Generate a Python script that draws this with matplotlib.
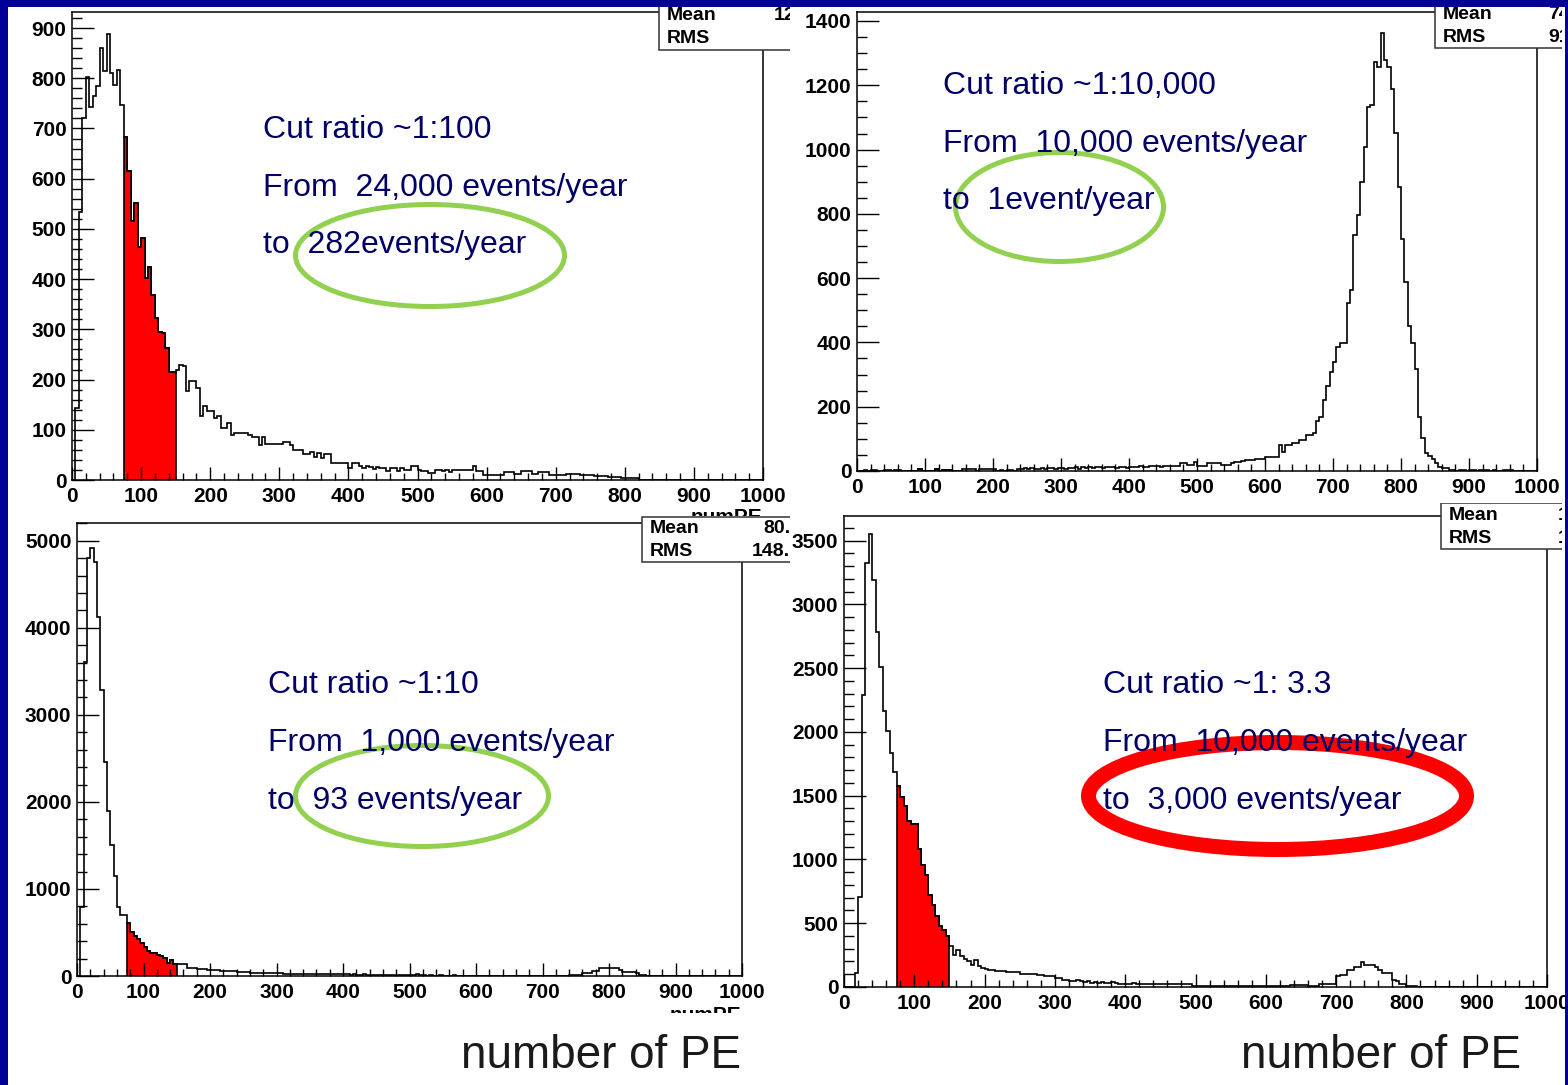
import numpy as np
import matplotlib
matplotlib.use("Agg")
import matplotlib.pyplot as plt
from matplotlib.patches import Rectangle, Ellipse

plt.rcParams['font.family'] = ['Liberation Sans', 'DejaVu Sans']

W, H = 1568, 1085  # slide size in pixels

# 200 bins of 5 PE between 0 and 1000, cut window 75-150 PE
bin_edges = np.arange(0, 1001, 5)
cut_lo, cut_hi = 75, 150

# top left: 24,000 events/year sample
counts_tl = np.array([
    0, 143, 534, 721, 802, 743, 765, 785, 860, 815, 888, 811, 787, 817, 746, 683, 615, 516, 551, 464,
    482, 402, 424, 368, 322, 295, 292, 262, 215, 215, 219, 230, 228, 178, 198, 198, 183, 127, 147, 137,
    137, 123, 127, 103, 103, 113, 90, 93, 93, 93, 93, 90, 86, 86, 70, 86, 72, 72, 72, 72,
    72, 76, 76, 70, 60, 60, 60, 52, 52, 56, 46, 54, 44, 52, 52, 34, 34, 34, 34, 34,
    24, 34, 34, 28, 24, 28, 26, 22, 26, 23, 23, 17, 23, 23, 17, 23, 20, 20, 27, 27,
    20, 17, 17, 13, 13, 19, 20, 17, 20, 15, 20, 20, 20, 20, 19, 19, 28, 17, 17, 10,
    10, 10, 10, 10, 10, 15, 15, 15, 12, 12, 17, 17, 17, 12, 12, 15, 15, 15, 10, 10,
    10, 10, 10, 12, 12, 12, 12, 9, 9, 9, 9, 8, 8, 8, 8, 5, 5, 5, 5, 4,
    4, 3, 3, 3, 0, 0, 0, 0, 0, 0, 0, 0, 0, 0, 0, 0, 0, 0, 0, 0,
    0, 0, 0, 0, 0, 0, 0, 0, 0, 0, 0, 0, 0, 0, 0, 0, 0, 0, 0, 0,
])

# top right: 10,000 events/year sample
counts_tr = np.array([
    0, 0, 3, 0, 3, 3, 0, 0, 3, 3, 0, 3, 3, 0, 0, 0, 0, 0, 6, 0,
    0, 0, 0, 6, 0, 3, 3, 3, 0, 0, 0, 5, 5, 5, 5, 0, 5, 5, 5, 5,
    5, 0, 3, 0, 3, 3, 0, 6, 6, 8, 6, 8, 6, 6, 8, 6, 8, 8, 6, 8,
    8, 6, 8, 8, 11, 6, 11, 9, 11, 9, 11, 11, 9, 11, 11, 11, 9, 11, 11, 9,
    13, 11, 13, 15, 13, 13, 15, 15, 15, 13, 15, 15, 17, 15, 15, 26, 26, 19, 19, 29,
    15, 15, 15, 24, 24, 24, 24, 19, 19, 19, 25, 29, 29, 31, 34, 34, 34, 36, 36, 36,
    43, 43, 43, 43, 81, 60, 81, 81, 87, 87, 96, 96, 112, 112, 118, 156, 168, 221, 264, 308,
    340, 386, 397, 397, 522, 563, 734, 796, 899, 1008, 1132, 1140, 1273, 1257, 1362, 1278, 1257, 1188, 1051, 883,
    721, 588, 451, 397, 317, 168, 103, 56, 47, 37, 25, 12, 9, 9, 3, 3, 0, 3, 3, 0,
    3, 3, 0, 3, 3, 3, 0, 3, 0, 0, 3, 3, 3, 0, 0, 0, 0, 0, 0, 0,
])

# bottom left: 1,000 events/year sample
counts_bl = np.array([
    0, 796, 3611, 4800, 4918, 4761, 4125, 3286, 2462, 1900, 1505, 1149, 796, 701, 701, 613, 509, 459, 425, 379,
    337, 291, 264, 264, 241, 230, 207, 153, 184, 138, 140, 140, 140, 92, 92, 92, 80, 80, 80, 69,
    69, 69, 69, 57, 57, 55, 55, 55, 46, 46, 46, 46, 34, 34, 34, 34, 34, 34, 34, 34,
    34, 34, 23, 23, 28, 23, 23, 23, 18, 23, 23, 23, 18, 18, 23, 18, 18, 18, 23, 18,
    18, 18, 12, 18, 12, 12, 18, 12, 12, 12, 12, 12, 8, 12, 12, 8, 8, 12, 8, 8,
    8, 8, 23, 8, 8, 4, 8, 4, 4, 8, 4, 4, 4, 8, 4, 4, 4, 4, 4, 4,
    4, 4, 4, 4, 4, 0, 4, 4, 0, 4, 4, 0, 4, 4, 0, 0, 4, 0, 4, 0,
    4, 0, 4, 0, 4, 4, 0, 4, 11, 11, 11, 11, 38, 38, 38, 61, 61, 96, 96, 96,
    96, 96, 96, 69, 50, 50, 50, 50, 34, 11, 11, 0, 0, 0, 0, 0, 0, 0, 0, 0,
    0, 0, 0, 0, 0, 0, 0, 0, 0, 0, 0, 0, 0, 0, 0, 0, 0, 0, 0, 0,
])

# bottom right: 10,000 events/year sample
counts_br = np.array([
    0, 0, 0, 110, 705, 2291, 3323, 3550, 3192, 2787, 2513, 2168, 2009, 1834, 1690, 1578, 1489, 1421, 1298, 1280,
    1280, 1081, 958, 880, 723, 645, 553, 475, 444, 402, 324, 253, 292, 245, 219, 201, 175, 214, 161, 149,
    140, 136, 136, 122, 122, 122, 116, 116, 116, 116, 104, 104, 104, 104, 104, 96, 96, 90, 83, 83,
    70, 70, 55, 55, 44, 44, 57, 44, 40, 44, 35, 40, 35, 40, 35, 35, 40, 35, 26, 26,
    26, 26, 30, 26, 26, 26, 26, 21, 21, 21, 21, 21, 21, 21, 21, 21, 21, 21, 21, 10,
    10, 10, 10, 10, 10, 10, 5, 5, 5, 5, 5, 5, 5, 5, 5, 5, 5, 5, 5, 5,
    10, 10, 10, 10, 10, 10, 10, 18, 18, 18, 18, 18, 10, 10, 10, 26, 26, 26, 26, 26,
    83, 97, 97, 136, 136, 157, 157, 193, 175, 175, 175, 157, 131, 110, 110, 110, 57, 44, 26, 26,
    5, 5, 5, 0, 0, 0, 0, 0, 0, 0, 0, 0, 0, 0, 0, 0, 0, 0, 0, 0,
    0, 0, 0, 0, 0, 0, 0, 0, 0, 0, 0, 0, 0, 0, 0, 0, 0, 0, 0, 0,
])

# y axis range / major step / minor step of each pad
y_tops = [932, 1428, 5205, 3694]
y_major = [100, 200, 1000, 500]
y_minor = [20, 50, 200, 100]

# stat box texts (cut off by the neighbouring picture)
stat_mean = ['12', '74', '80.', '1']
stat_rms = ['', '91', '148.', '1']

cut_lines = [
    ['Cut ratio ~1:100', 'From  24,000 events/year', 'to  282events/year'],
    ['Cut ratio ~1:10,000', 'From  10,000 events/year', 'to  1event/year'],
    ['Cut ratio ~1:10', 'From  1,000 events/year', 'to  93 events/year'],
    ['Cut ratio ~1: 3.3', 'From  10,000 events/year', 'to  3,000 events/year'],
]

fig = plt.figure(figsize=(W / 100, H / 100), dpi=100, facecolor='white')


def px_axes(left, top, right, bottom, zorder):
    return fig.add_axes([left / W, 1 - bottom / H, (right - left) / W, (bottom - top) / H], zorder=zorder)


def draw_hist(box, counts, ytop, ystep, ysub):
    ax = px_axes(*box, zorder=1)
    lo = np.searchsorted(bin_edges, cut_lo)
    hi = np.searchsorted(bin_edges, cut_hi)
    ax.stairs(counts, bin_edges, color='black', lw=1.2)
    ax.stairs(counts[lo:hi], bin_edges[lo:hi + 1], fill=True, facecolor='red',
              edgecolor='black', lw=1.2)
    ax.set_xlim(0, 1000)
    ax.set_ylim(0, ytop)
    xt = np.arange(0, 1001, 100)
    ax.set_xticks(xt, [str(v) for v in xt], fontsize=15, fontweight='bold')
    ax.set_xticks(np.arange(0, 1001, 20), minor=True)
    yt = np.arange(0, ytop, ystep)
    ax.set_yticks(yt, [str(v) for v in yt], fontsize=15, fontweight='bold')
    ax.set_yticks(np.arange(0, ytop, ysub), minor=True)
    ax.tick_params(which='both', direction='in', top=False, right=False, width=1)
    ax.tick_params(axis='y', which='major', length=16, pad=4)
    ax.tick_params(axis='y', which='minor', length=7.5)
    ax.tick_params(axis='x', which='major', length=9.5, pad=5)
    ax.tick_params(axis='x', which='minor', length=5)
    for sp in ax.spines.values():
        sp.set_linewidth(1.1)
    return ax


def canvas(x0, y0, x1, y1):
    cv = px_axes(x0, y0, x1, y1, zorder=2)
    cv.set_xlim(x0, x1)
    cv.set_ylim(y1, y0)
    cv.axis('off')
    return cv


pad_boxes = [(72, 12, 763, 480), (857, 12, 1537, 471), (77, 523, 742, 976), (844, 516, 1547, 987)]
canvases = [(8, 7, 790, 516), (790, 7, 1562, 503), (8, 516, 790, 1013), (790, 503, 1562, 1013)]
# stat box: left, top, bottom, row y of Mean / RMS, x of values
stat_boxes = [(659, -10, 50, (15, 38), (774, 774)),
              (1435, -10, 48, (14, 37), (1548, 1548)),
              (642, 517, 562, (528, 551), (763, 752)),
              (1441, 503, 549, (515, 538), (1558, 1558))]
# x title of the pads, only the top of it shows under the left pads
numpe_pos = {0: (762, 523), 2: (741, 1021)}

all_counts = [counts_tl, counts_tr, counts_bl, counts_br]
for i in range(4):
    draw_hist(pad_boxes[i], all_counts[i], y_tops[i], y_major[i], y_minor[i])
    cv = canvas(*canvases[i])
    left, top, bottom, rows, vx = stat_boxes[i]
    cv.add_patch(Rectangle((left, top), 400, bottom - top, facecolor='white',
                           edgecolor='#333333', lw=1.1))
    for y, lab, x, val in zip(rows, ['Mean', 'RMS'], vx, [stat_mean[i], stat_rms[i]]):
        cv.text(left + 8, y, lab, fontsize=14, fontweight='bold', va='center', clip_on=True)
        cv.text(x, y, val, fontsize=14, fontweight='bold', va='center', clip_on=True)
    if i in numpe_pos:
        cv.text(numpe_pos[i][0], numpe_pos[i][1], 'numPE', fontsize=15, fontweight='bold',
                ha='right', va='baseline', clip_on=True)

# slide overlay: texts, ellipses, blue frame
top = px_axes(0, 0, W, H, zorder=3)
top.set_xlim(0, W)
top.set_ylim(H, 0)
top.axis('off')

text_x = [263, 943, 268, 1103]
text_base = [[138, 196, 253], [94, 152, 209], [693, 751, 809], [693, 751, 809]]
for i in range(4):
    for s, yb in zip(cut_lines[i], text_base[i]):
        top.text(text_x[i], yb, s, fontsize=23, color='#000066', va='baseline', ha='left')

for cx, cy, w, h in [(430, 255.5, 269, 102), (1059.5, 207, 208, 109), (422, 796, 253, 101)]:
    top.add_patch(Ellipse((cx, cy), w, h, fill=False, edgecolor='#92d050', lw=3.6))
top.add_patch(Ellipse((1277.5, 796), 378, 107, fill=False, edgecolor='#ff0000', lw=10.8))

for cx in [601, 1381]:
    top.text(cx, 1068, 'number of PE', fontsize=33, color='#1a1a1a', ha='center', va='baseline')

for x, y, w, h in [(0, 0, W, 7), (0, 0, 8, H), (1565, 0, 3, H)]:
    top.add_patch(Rectangle((x, y), w, h, facecolor='#000099', edgecolor='none', zorder=10))

fig.savefig('out.png', dpi=100, facecolor='white')
